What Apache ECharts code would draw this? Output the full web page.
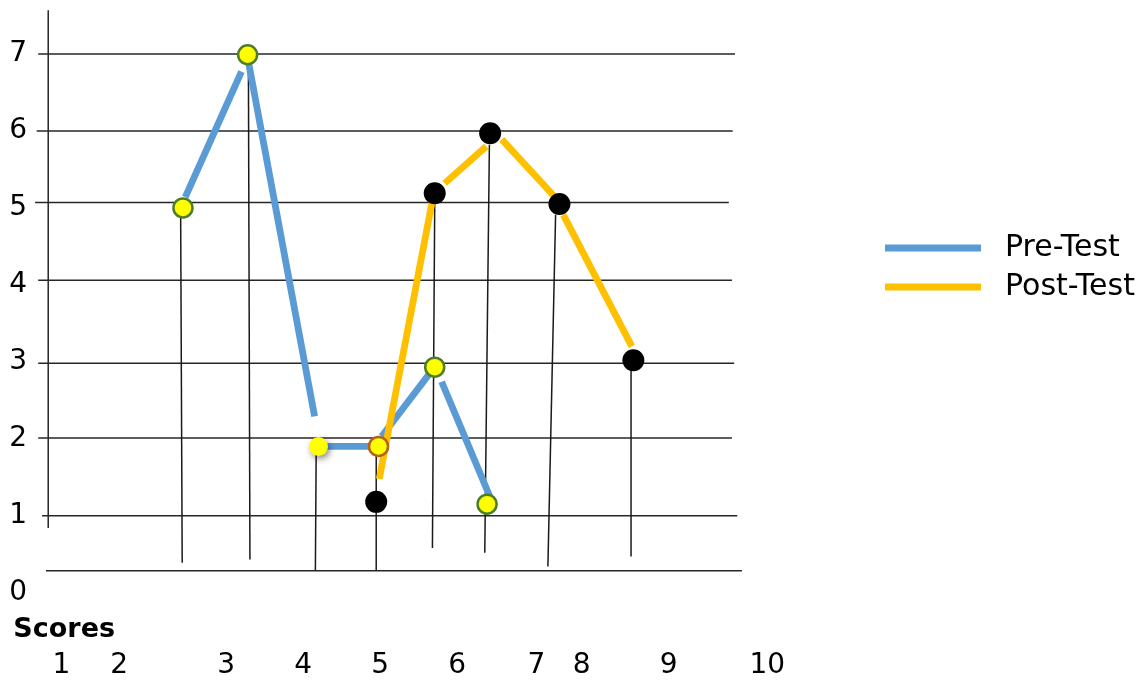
<!DOCTYPE html>
<html>
<head>
<meta charset="utf-8">
<script src="https://cdn.jsdelivr.net/npm/echarts@6/dist/echarts.min.js"></script>
<style>
    html, body { margin: 0; padding: 0; background: #fff; }
    #chart { width: 1142px; height: 683px; }
</style>
</head>
<body>
<div id="chart"></div>
<script>
// values (x in score units, y in score units)
const preTestPoints = [[2.44, 5.0], [3.28, 6.99], [4.20, 1.90], [4.98, 1.90], [5.71, 2.93], [6.39, 1.15]]
const postTestPoints = [[4.95, 1.18], [5.71, 5.19], [6.43, 5.97], [7.33, 5.05], [8.29, 3.02]]

// the lines were drawn piece by piece, so each piece is [x1, y1, x2, y2]
const preTestSegments = [
    [2.47, 5.14, 3.20, 6.77],
    [3.29, 6.90, 4.15, 2.29],
    [4.19, 1.90, 4.95, 1.90],
    [5.02, 2.03, 5.63, 2.83],
    [5.80, 2.74, 6.43, 1.24]
]
const postTestSegments = [
    [4.99, 1.48, 5.68, 5.10],
    [5.84, 5.32, 6.38, 5.80],
    [6.58, 5.89, 7.31, 5.10],
    [7.38, 4.91, 8.27, 3.20]
]

// thin drop lines from the points to the base line
const dropLines = [
    [2.41, 4.91, 2.43, 0.39],
    [3.29, 6.86, 3.31, 0.43],
    [4.17, 1.79, 4.16, 0.29],
    [4.95, 1.82, 4.95, 0.29],
    [5.71, 5.06, 5.68, 0.58],
    [6.42, 5.82, 6.36, 0.52],
    [7.28, 4.91, 7.18, 0.34],
    [8.26, 2.89, 8.26, 0.47]
]

// hand drawn frame: horizontal rules, base line, vertical axis
const frameLines = [
    [0.56, 7.0, 9.61, 7.0],
    [0.54, 6.0, 9.58, 6.0],
    [0.52, 5.07, 9.53, 5.07],
    [0.56, 4.06, 9.57, 4.06],
    [0.56, 2.98, 9.60, 2.98],
    [0.56, 2.01, 9.57, 2.01],
    [0.61, 1.0, 9.64, 1.0],
    [0.66, 0.285, 9.70, 0.285],
    [0.69, 7.57, 0.69, 0.84]
]

const xTickLabels = ['1', '2', '3', '4', '5', '6', '7', '8', '9', '10']
const xTickPositions = [0.86, 1.61, 3.0, 4.0, 5.0, 6.0, 7.03, 7.62, 8.75, 10.03]
const xTickRow = -0.95
const axisTitle = 'Scores'
const axisTitlePos = [0.23, -0.485]

const FONT = 'DejaVu Sans'

function segmentSeries (name, data, color, width, z) {
    return {
        name: name,
        type: 'custom',
        z: z,
        silent: true,
        data: data,
        encode: { x: [0, 2], y: [1, 3] },
        itemStyle: { color: color },
        renderItem: function (params, api) {
            let a = api.coord([api.value(0), api.value(1)])
            let b = api.coord([api.value(2), api.value(3)])
            return {
                type: 'line',
                shape: { x1: a[0], y1: a[1], x2: b[0], y2: b[1] },
                style: { stroke: color, lineWidth: width, lineCap: 'butt' }
            }
        }
    }
}

// a couple of the pre-test markers look different in the picture
const preMarkerOverrides = {
    2: { borderWidth: 0, shadowBlur: 6, shadowColor: 'rgba(0,0,0,0.45)', shadowOffsetX: 2, shadowOffsetY: 3 },
    3: { borderColor: '#b5601e' }
}

let chart = echarts.init(document.getElementById('chart'))
chart.setOption({
    animation: false,
    grid: { left: 49, right: 300, top: 7.83, bottom: 13.4 },
    xAxis: {
        type: 'value',
        min: 0.7,
        max: 11,
        show: false
    },
    yAxis: {
        type: 'value',
        min: -1,
        max: 7.6,
        interval: 1,
        axisLine: { show: false },
        axisTick: { show: false },
        splitLine: { show: false },
        axisLabel: {
            margin: 22,
            color: '#000',
            fontFamily: FONT,
            fontSize: 28,
            formatter: function (v) {
                return (v >= 0 && Number.isInteger(v)) ? String(v) : ''
            }
        }
    },
    legend: {
        data: ['Pre-Test', 'Post-Test'],
        orient: 'vertical',
        left: 885,
        top: 228,
        padding: 0,
        icon: 'rect',
        itemWidth: 96,
        itemHeight: 7,
        itemGap: -1,
        selectedMode: false,
        textStyle: {
            color: '#000',
            fontFamily: FONT,
            fontSize: 30,
            lineHeight: 32,
            padding: [0, 0, 8, 19]
        }
    },
    series: [
        segmentSeries('frame', frameLines, '#262626', 1.5, 1),
        segmentSeries('drops', dropLines, '#1a1a1a', 1.5, 1),
        segmentSeries('Pre-Test', preTestSegments, '#5b9bd5', 6.8, 2),
        segmentSeries('Post-Test', postTestSegments, '#ffc000', 6.8, 2),
        {
            name: 'Pre-Test points',
            type: 'scatter',
            z: 3,
            silent: true,
            symbolSize: 19,
            itemStyle: { color: '#ffff00', borderColor: '#4e7d2a', borderWidth: 2.5, opacity: 1 },
            data: preTestPoints.map(function (p, i) {
                let item = { value: p }
                if (preMarkerOverrides[i]) item.itemStyle = preMarkerOverrides[i]
                return item
            })
        },
        {
            name: 'Post-Test points',
            type: 'scatter',
            z: 3,
            silent: true,
            symbolSize: 22,
            itemStyle: { color: '#000', opacity: 1 },
            data: postTestPoints
        },
        {
            name: 'x labels',
            type: 'scatter',
            silent: true,
            clip: false,
            symbolSize: 1,
            itemStyle: { color: 'rgba(0,0,0,0)', opacity: 1 },
            label: {
                show: true,
                position: 'inside',
                color: '#000',
                fontFamily: FONT,
                fontSize: 28,
                formatter: function (p) { return p.name }
            },
            data: xTickLabels.map(function (t, i) {
                return { name: t, value: [xTickPositions[i], xTickRow] }
            })
        },
        {
            name: 'axis title',
            type: 'scatter',
            silent: true,
            clip: false,
            symbolSize: 1,
            itemStyle: { color: 'rgba(0,0,0,0)', opacity: 1 },
            label: {
                show: true,
                position: 'right',
                distance: 0,
                color: '#000',
                fontFamily: FONT,
                fontWeight: 'bold',
                fontSize: 27,
                formatter: function (p) { return p.name }
            },
            data: [{ name: axisTitle, value: axisTitlePos }]
        }
    ]
})
</script>
</body>
</html>
